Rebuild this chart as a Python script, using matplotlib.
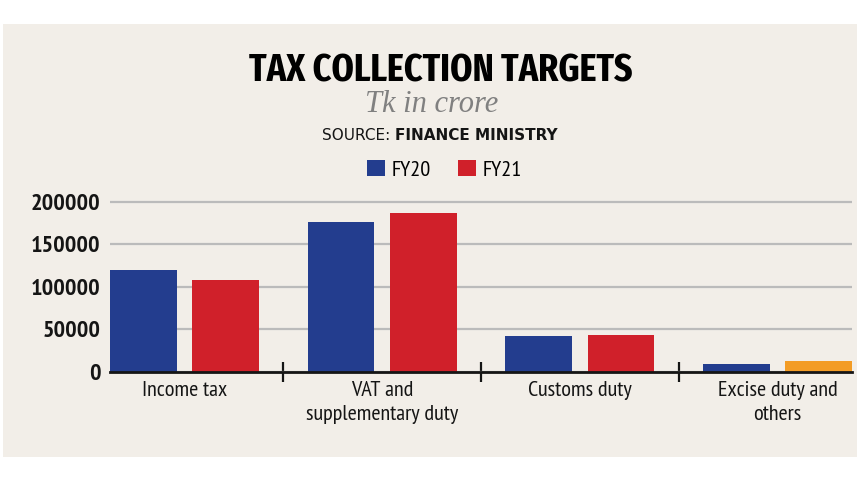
import matplotlib.pyplot as plt
from matplotlib.patches import Patch, Rectangle
import numpy as np

categories = ["Income tax", "VAT and\nsupplementary duty", "Customs duty", "Excise duty and\nothers"]
fy20 = [119600, 175800, 42000, 9100]
fy21 = [107900, 187100, 43200, 12900]
yticks = [0, 50000, 100000, 150000, 200000]

BLUE = "#233D8E"
RED = "#D0202A"
ORANGE = "#F39C25"
fy21_colors = [RED, RED, RED, ORANGE]
NARROW = ["PT Sans Narrow", "DejaVu Sans"]
TITLE_FONT = ["Fira Sans Extra Condensed", "PT Sans Narrow", "DejaVu Sans"]
INK = "#151515"

W, H = 857, 482
fig = plt.figure(figsize=(W / 100, H / 100), dpi=100)
fig.patch.set_facecolor("white")
fig.add_artist(Rectangle((3 / W, 1 - 457 / H), 854 / W, 433 / H, transform=fig.transFigure,
                         facecolor="#F2EEE8", edgecolor="none", zorder=0))

ax = fig.add_axes([110 / W, 1 - 371.7 / H, 742 / W, 178.5 / H])
ax.patch.set_visible(False)

x = np.arange(len(categories))
w, off = 0.337, 0.208
ax.bar(x - off, fy20, w, color=BLUE, zorder=3)
ax.bar(x + off, fy21, w, color=fy21_colors, zorder=3)
ax.set_xlim(-0.377, 3.377)
ax.set_ylim(0, 210000)

for s in ["top", "right", "left"]:
    ax.spines[s].set_visible(False)
ax.spines["bottom"].set_linewidth(2)
ax.spines["bottom"].set_color(INK)
ax.spines["bottom"].set_zorder(4)

ax.set_yticks(yticks)
ax.set_yticklabels([str(v) for v in yticks], fontfamily=NARROW, fontweight="bold",
                   fontsize=17.5, color=INK)
ax.tick_params(axis="y", length=0, pad=7)
ax.grid(axis="y", color="#BBBBBB", lw=1.6)
ax.set_axisbelow(True)

ax.set_xticks(x)
ax.set_xticklabels(categories, fontfamily=NARROW, fontsize=16, color=INK, linespacing=1.28)
ax.tick_params(axis="x", which="major", length=0, pad=7)
ax.set_xticks([0.5, 1.5, 2.5], minor=True)
ax.tick_params(axis="x", which="minor", direction="inout", length=15, width=1.6, color=INK)

# titles
fig.text(441 / W, 1 - 81.7 / H, "TAX COLLECTION TARGETS", ha="center", va="baseline",
         fontfamily=TITLE_FONT, fontweight="bold", fontsize=28, color="black")
fig.text(432 / W, 1 - 112 / H, "Tk in crore", ha="center", va="baseline",
         fontfamily=["Liberation Serif", "DejaVu Serif"], style="italic", fontsize=22,
         color="#808080")
t1 = fig.text(0, 1 - 140 / H, "SOURCE: ", va="baseline", fontfamily="DejaVu Sans",
              fontsize=11, color=INK)
t2 = fig.text(0, 1 - 140 / H, "FINANCE MINISTRY", va="baseline", fontfamily="DejaVu Sans",
              fontweight="bold", fontsize=11, color=INK)
fig.canvas.draw()
r = fig.canvas.get_renderer()
w1 = t1.get_window_extent(r).width
w2 = t2.get_window_extent(r).width
x0 = 440 - (w1 + w2) / 2
t1.set_x(x0 / W)
t2.set_x((x0 + w1) / W)

handles = [Patch(facecolor=BLUE), Patch(facecolor=RED)]
fig.legend(handles, ["FY20", "FY21"], loc="center", bbox_to_anchor=(444.5 / W, 1 - 170 / H),
           ncol=2, frameon=False, prop=dict(family=NARROW, size=16),
           handlelength=0.78, handleheight=0.75, handletextpad=0.3, columnspacing=1.25,
           borderaxespad=0, borderpad=0)

fig.savefig("out.png", dpi=100)
